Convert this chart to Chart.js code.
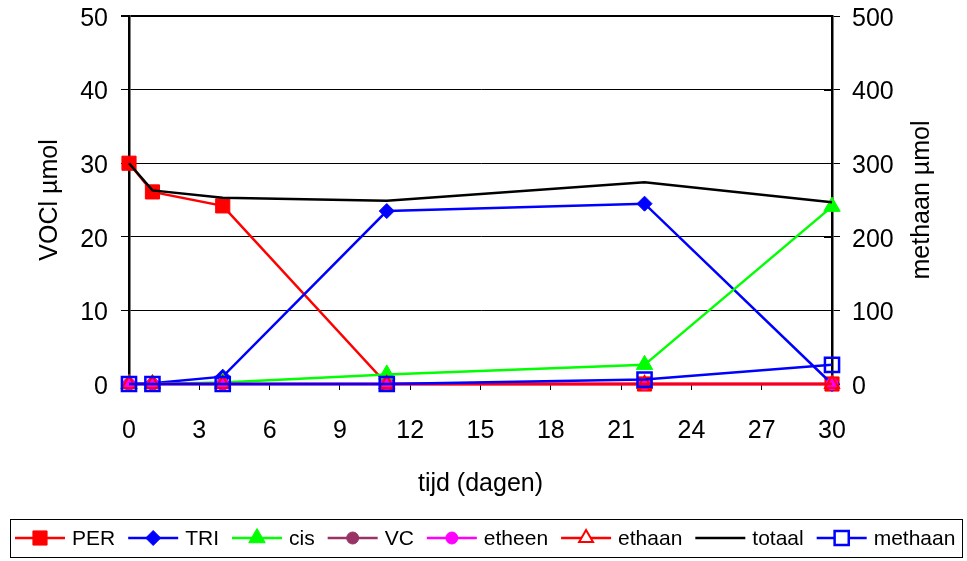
<!DOCTYPE html>
<html>
<head>
<meta charset="utf-8">
<script src="https://cdn.jsdelivr.net/npm/chart.js"></script>
<style>
  html, body { margin: 0; padding: 0; background: #fff; }
  canvas { display: block; }
</style>
</head>
<body>
<canvas id="chart" width="967" height="561"></canvas>
<script>
// Sampling days
const days = [0, 1, 4, 11, 22, 30];

// VOCl series (µmol, left axis)
const per    = [30, 26.1, 24.2, 0, 0, 0];
const tri    = [0, 0.1, 1.0, 23.5, 24.5, 0];
const cis    = [0, 0, 0.2, 1.3, 2.6, 24.1];
const vc     = [0, 0, 0, 0, 0, 0];
const etheen = [0, 0, 0, 0, 0, 0];
const ethaan = [0, 0, 0, 0, 0, 0];
const totaal = [30, 26.3, 25.3, 24.9, 27.4, 24.7];

// Methane (µmol, right axis)
const methaan = [0, 0, 0, 0, 6, 26];

// Axis ticks
const xTicks = [0, 3, 6, 9, 12, 15, 18, 21, 24, 27, 30];
const leftTicks = [0, 10, 20, 30, 40, 50];
const rightTicks = [0, 100, 200, 300, 400, 500];

// Text
const xTitle = 'tijd (dagen)';
const leftTitle = 'VOCl µmol';
const rightTitle = 'methaan µmol';

const FONT = '"Liberation Sans", Arial, sans-serif';

function pts(values) {
  return values.map((v, i) => ({ x: days[i], y: v }));
}

function series(label, values, color, opts) {
  return Object.assign({
    label: label,
    data: pts(values),
    borderColor: color,
    backgroundColor: color,
    pointBackgroundColor: color,
    pointBorderColor: color,
    pointBorderWidth: 1,
    borderWidth: 2.5,
    tension: 0,
    clip: false,
    yAxisID: 'y'
  }, opts);
}

const datasets = [
  series('PER', per, '#FF0000', { pointStyle: 'rect', pointRadius: 10 }),
  series('TRI', tri, '#0000FF', { pointStyle: 'rectRot', pointRadius: 7.5 }),
  series('cis', cis, '#00FF00', { pointStyle: 'triangle', pointRadius: 9.5 }),
  series('VC', vc, '#993366', { pointStyle: 'circle', pointRadius: 6 }),
  series('etheen', etheen, '#FF00FF', { pointStyle: 'circle', pointRadius: 6 }),
  series('ethaan', ethaan, '#FF0000', { pointStyle: 'triangle', pointRadius: 8, pointBackgroundColor: 'rgba(0,0,0,0)', pointBorderWidth: 2, openMarker: true }),
  series('totaal', totaal, '#000000', { pointRadius: 0 }),
  series('methaan', methaan, '#0000FF', { pointStyle: 'rect', pointRadius: 10, pointBackgroundColor: 'rgba(0,0,0,0)', pointBorderWidth: 2.5, openMarker: true, yAxisID: 'y2' })
];
// later series are painted over earlier ones
datasets.forEach((d, i) => { d.order = datasets.length - i; });

function marker(ctx, style, r, x, y) {
  ctx.beginPath();
  if (style === 'rect') {
    const s = r * Math.SQRT1_2;
    ctx.rect(x - s, y - s, 2 * s, 2 * s);
  } else if (style === 'rectRot') {
    ctx.moveTo(x, y - r); ctx.lineTo(x + r, y); ctx.lineTo(x, y + r); ctx.lineTo(x - r, y); ctx.closePath();
  } else if (style === 'triangle') {
    const h = r * Math.sqrt(3) / 2;
    ctx.moveTo(x, y - r); ctx.lineTo(x + h, y + r / 2); ctx.lineTo(x - h, y + r / 2); ctx.closePath();
  } else {
    ctx.arc(x, y, r, 0, Math.PI * 2);
  }
  ctx.fill();
  ctx.stroke();
}

const decorations = {
  id: 'decorations',
  beforeDatasetsDraw(chart) {
    // right-axis tick marks also cross into the plot
    const ctx = chart.ctx;
    const s = chart.scales.y2;
    ctx.save();
    ctx.strokeStyle = '#000';
    ctx.lineWidth = 1;
    s.ticks.forEach(t => {
      const py = Math.round(s.getPixelForValue(t.value)) + 0.5;
      ctx.beginPath();
      ctx.moveTo(s.left - 8, py);
      ctx.lineTo(s.left, py);
      ctx.stroke();
    });
    ctx.restore();
  },
  afterDraw(chart) {
    const ctx = chart.ctx;
    const area = chart.chartArea;
    ctx.save();
    ctx.fillStyle = '#000';
    ctx.font = '25px ' + FONT;
    ctx.textAlign = 'center';
    ctx.textBaseline = 'middle';
    // axis titles
    ctx.fillText(xTitle, (area.left + area.right) / 2, 484);
    ctx.save();
    ctx.translate(50, (area.top + area.bottom) / 2);
    ctx.rotate(-Math.PI / 2);
    ctx.fillText(leftTitle, 0, 0);
    ctx.restore();
    ctx.save();
    ctx.translate(922, (area.top + area.bottom) / 2);
    ctx.rotate(-Math.PI / 2);
    ctx.fillText(rightTitle, 0, 0);
    ctx.restore();

    // legend box
    ctx.strokeStyle = '#000';
    ctx.lineWidth = 1;
    ctx.strokeRect(10.5, 519.5, 952, 38);
    ctx.font = '21px ' + FONT;
    ctx.textAlign = 'left';
    let x = 15;
    const y = 538;
    chart.data.datasets.forEach(ds => {
      ctx.strokeStyle = ds.borderColor;
      ctx.lineWidth = ds.borderWidth;
      ctx.beginPath();
      ctx.moveTo(x, y);
      ctx.lineTo(x + 50, y);
      ctx.stroke();
      if (ds.pointRadius > 0) {
        ctx.fillStyle = ds.openMarker ? '#fff' : ds.pointBackgroundColor;
        ctx.strokeStyle = ds.pointBorderColor;
        ctx.lineWidth = ds.pointBorderWidth;
        marker(ctx, ds.pointStyle, ds.pointRadius, x + 25, y);
      }
      ctx.fillStyle = '#000';
      ctx.fillText(ds.label, x + 57, y + 1);
      x += 57 + ctx.measureText(ds.label).width + 13;
    });
    ctx.restore();
  }
};

function fixedTicks(list) {
  return scale => { scale.ticks = list.map(v => ({ value: v })); };
}

function fixWidth(w) {
  return s => { s.width = w; s.paddingTop = 0; s.paddingBottom = 0; };
}

new Chart(document.getElementById('chart'), {
  type: 'line',
  data: { datasets: datasets },
  options: {
    responsive: false,
    animation: false,
    layout: { padding: { top: 16, bottom: 50, left: 0, right: 0 } },
    plugins: { legend: { display: false }, tooltip: { enabled: false } },
    elements: { line: { borderJoinStyle: 'miter' } },
    scales: {
      x: {
        type: 'linear',
        min: 0, max: 30,
        afterBuildTicks: fixedTicks(xTicks),
        afterFit: s => { s.height = 127; s.paddingLeft = 0; s.paddingRight = 0; },
        ticks: { color: '#000', font: { size: 25, family: FONT }, padding: 26, maxRotation: 0, autoSkip: false },
        grid: { drawOnChartArea: false, drawTicks: true, tickLength: 6, color: '#000', lineWidth: 1 },
        border: { color: '#000', width: 2 }
      },
      y: {
        position: 'left',
        min: 0, max: 50,
        afterBuildTicks: fixedTicks(leftTicks),
        afterFit: fixWidth(129),
        ticks: { color: '#000', font: { size: 25, family: FONT }, padding: 13, labelOffset: 3 },
        grid: { color: '#000', lineWidth: c => (c.tick && c.tick.value === 50 ? 2 : 1), tickLength: 8 },
        border: { color: '#000', width: 2.5 }
      },
      y2: {
        position: 'right',
        min: 0, max: 500,
        afterBuildTicks: fixedTicks(rightTicks),
        afterFit: fixWidth(135),
        ticks: { color: '#000', font: { size: 25, family: FONT }, padding: 12, labelOffset: 3 },
        grid: { drawOnChartArea: false, color: '#000', lineWidth: 1, tickLength: 8 },
        border: { color: '#000', width: 2.5 }
      }
    }
  },
  plugins: [decorations]
});
</script>
</body>
</html>
